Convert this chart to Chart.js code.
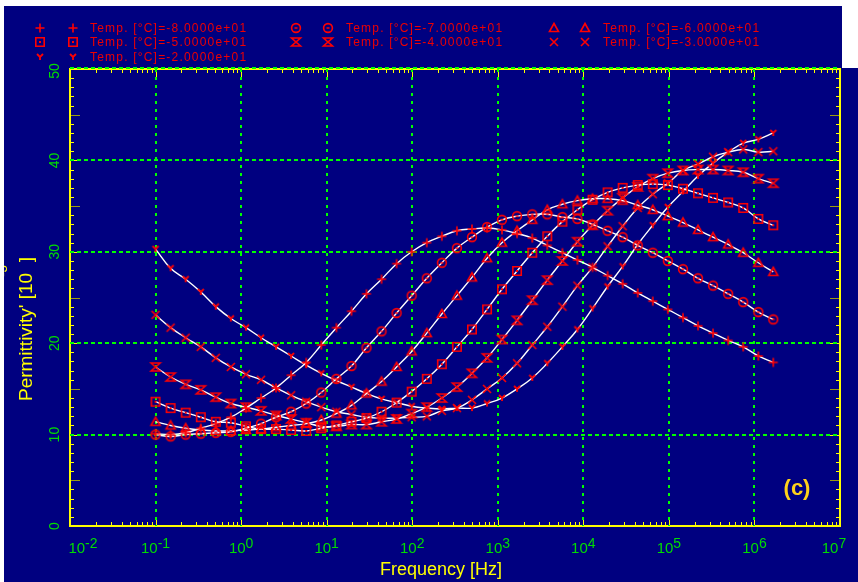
<!DOCTYPE html>
<html>
<head>
<meta charset="utf-8">
<script src="https://cdn.jsdelivr.net/npm/chart.js"></script>
<style>
  html, body { margin: 0; padding: 0; background: #fff; }
  canvas { display: block; }
</style>
</head>
<body>
<canvas id="grafico" width="858" height="582"></canvas>
<script>
// frecuencias de medida [Hz]
const frecuencias = [0.1, 0.15, 0.225, 0.338, 0.506, 0.759, 1.14, 1.71, 2.56, 3.84,
  5.77, 8.65, 13.0, 19.5, 29.2, 43.8, 65.7, 98.5, 148, 222,
  333, 499, 749, 1120, 1680, 2530, 3790, 5690, 8530, 12800,
  19200, 28800, 43200, 64800, 97300, 146000, 219000, 328000, 493000, 739000,
  1110000, 1660000];

// permitividad' [10^-3] por temperatura
const tempM80 = [10.1, 10.0, 10.2, 10.7, 11.2, 11.9, 12.9, 14.0, 15.1, 16.5,
  17.9, 19.8, 21.7, 23.5, 25.4, 27.0, 28.7, 30.0, 31.0, 31.7,
  32.3, 32.5, 32.6, 32.4, 32.0, 31.5, 30.7, 29.9, 29.1, 28.3,
  27.4, 26.5, 25.5, 24.6, 23.7, 22.8, 21.9, 21.1, 20.3, 19.6,
  18.6, 17.9];
const tempM70 = [10.0, 9.8, 10.0, 10.1, 10.2, 10.3, 10.7, 11.2, 11.9, 12.5,
  13.4, 14.6, 16.1, 17.5, 19.5, 21.3, 23.3, 25.2, 27.1, 28.8,
  30.4, 31.6, 32.7, 33.5, 33.9, 34.1, 34.1, 33.8, 33.6, 33.0,
  32.3, 31.6, 30.7, 29.9, 29.0, 28.1, 27.1, 26.3, 25.4, 24.5,
  23.4, 22.6];
const tempM60 = [11.4, 11.0, 10.7, 10.5, 10.4, 10.4, 10.5, 10.6, 10.8, 11.0,
  11.2, 11.6, 12.3, 13.2, 14.5, 15.8, 17.4, 19.1, 21.1, 23.2,
  25.2, 27.2, 29.3, 31.0, 32.3, 33.5, 34.6, 35.2, 35.6, 35.8,
  35.8, 35.6, 35.1, 34.6, 33.9, 33.2, 32.4, 31.6, 30.8, 29.9,
  28.8, 27.8];
const tempM50 = [13.6, 12.9, 12.4, 11.9, 11.4, 11.3, 10.9, 10.6, 10.6, 10.5,
  10.4, 10.7, 11.0, 11.4, 11.8, 12.5, 13.5, 14.7, 16.1, 17.7,
  19.6, 21.5, 23.7, 25.9, 27.9, 29.9, 31.7, 33.3, 34.6, 35.7,
  36.5, 37.0, 37.3, 37.4, 37.3, 36.9, 36.4, 35.9, 35.4, 34.8,
  33.6, 32.9];
const tempM40 = [17.4, 16.3, 15.5, 14.9, 14.1, 13.4, 13.0, 12.6, 12.1, 11.7,
  11.3, 10.9, 10.9, 11.1, 11.1, 11.4, 11.7, 12.3, 13.0, 14.0,
  15.2, 16.7, 18.4, 20.4, 22.5, 24.7, 26.9, 29.0, 31.1, 32.9,
  34.5, 35.9, 37.1, 38.0, 38.6, 38.9, 39.0, 39.0, 38.9, 38.7,
  38.0, 37.5];
const tempM30 = [23.1, 21.7, 20.6, 19.6, 18.4, 17.4, 16.6, 16.0, 15.1, 14.3,
  13.6, 13.0, 12.5, 12.2, 11.9, 11.8, 11.8, 11.9, 12.0, 12.6,
  12.9, 13.8, 15.0, 16.2, 17.8, 19.8, 21.8, 24.0, 26.3, 28.3,
  30.6, 32.8, 34.8, 36.3, 37.5, 38.9, 39.6, 40.4, 40.9, 41.2,
  40.9, 41.0];
const tempM20 = [30.3, 28.2, 27.0, 25.6, 24.0, 22.7, 21.7, 20.6, 19.6, 18.6,
  17.6, 16.7, 15.9, 15.2, 14.5, 13.9, 13.5, 13.1, 12.9, 12.8,
  12.9, 12.9, 13.4, 14.0, 15.0, 16.2, 17.8, 19.6, 21.5, 23.8,
  26.2, 28.4, 30.8, 32.9, 34.9, 36.6, 38.3, 39.7, 40.9, 41.9,
  42.3, 43.0];

const series = [tempM80, tempM70, tempM60, tempM50, tempM40, tempM30, tempM20];
const leyendas = ['Temp. [°C]=-8.0000e+01', 'Temp. [°C]=-7.0000e+01', 'Temp. [°C]=-6.0000e+01',
  'Temp. [°C]=-5.0000e+01', 'Temp. [°C]=-4.0000e+01', 'Temp. [°C]=-3.0000e+01',
  'Temp. [°C]=-2.0000e+01'];
const simbolos = ['plus', 'theta', 'tri', 'square', 'hourglass', 'cross', 'ydown'];

// etiquetas de los ejes
const exponentesX = [-2, -1, 0, 1, 2, 3, 4, 5, 6, 7];
const ticksY = [0, 10, 20, 30, 40, 50];

const AZUL = '#000080';
const ROJO = '#ff0000';
const VERDE = '#00ff00';
const VERDE_TXT = '#00dd00';
const AMARILLO = '#ffff00';
const OLIVA = '#9a9a10';
const FUENTE = '"Liberation Sans", Arial, sans-serif';

function marcador(tipo) {
  const c = document.createElement('canvas');
  c.width = 14; c.height = 14;
  const g = c.getContext('2d');
  const m = 7;
  g.strokeStyle = ROJO;
  g.fillStyle = ROJO;
  g.lineWidth = 1.6;
  g.beginPath();
  switch (tipo) {
    case 'plus':
      g.moveTo(m - 4.5, m); g.lineTo(m + 4.5, m);
      g.moveTo(m, m - 4.5); g.lineTo(m, m + 4.5);
      break;
    case 'theta':
      g.arc(m, m, 4.4, 0, Math.PI * 2);
      g.moveTo(m - 1.5, m); g.lineTo(m + 1.5, m);
      break;
    case 'tri':
      g.moveTo(m, m - 4.5); g.lineTo(m + 4.5, m + 3.5); g.lineTo(m - 4.5, m + 3.5); g.closePath();
      break;
    case 'square':
      g.rect(m - 4.2, m - 4.2, 8.4, 8.4);
      g.fillRect(m - 1, m - 1, 2, 2);
      break;
    case 'hourglass':
      g.moveTo(m - 4.5, m - 4); g.lineTo(m + 4.5, m - 4); g.lineTo(m - 4.5, m + 4); g.lineTo(m + 4.5, m + 4); g.closePath();
      break;
    case 'cross':
      g.moveTo(m - 4, m - 4); g.lineTo(m + 4, m + 4);
      g.moveTo(m + 4, m - 4); g.lineTo(m - 4, m + 4);
      break;
    case 'ydown':
      g.lineWidth = 1.8;
      g.moveTo(m - 3, m - 3); g.lineTo(m, m); g.lineTo(m + 3, m - 3);
      g.moveTo(m, m); g.lineTo(m, m + 3);
      break;
  }
  g.stroke();
  return c;
}
const imagenes = simbolos.map(marcador);

const datasets = series.map((vals, i) => ({
  label: leyendas[i],
  data: frecuencias.map((f, k) => ({ x: f, y: vals[k] })),
  borderColor: '#ffffff',
  borderWidth: 1.4,
  tension: 0.4,
  pointStyle: imagenes[i],
  pointRadius: 4,
  fill: false
}));

function textoExp(ctx, base, exp, cx, y, fb, fe, sube) {
  ctx.font = fb;
  const wb = ctx.measureText(base).width;
  ctx.font = fe;
  const we = ctx.measureText(exp).width;
  const x0 = cx - (wb + we) / 2;
  ctx.font = fb;
  ctx.fillText(base, x0, y);
  ctx.font = fe;
  ctx.fillText(exp, x0 + wb, y - sube);
}

const marco = {
  id: 'marco',
  beforeDraw(chart) {
    const ctx = chart.ctx;
    ctx.save();
    ctx.fillStyle = '#ffffff';
    ctx.fillRect(0, 0, chart.width, chart.height);
    ctx.fillStyle = AZUL;
    ctx.fillRect(4, 6, chart.width - 4, chart.height - 6);
    ctx.restore();
  },
  beforeDatasetsDraw(chart) {
    const { ctx, chartArea: a, scales: { x, y } } = chart;
    ctx.save();
    // marcas menores del eje y (izquierda y derecha)
    ctx.lineWidth = 1;
    for (let v = 1; v < 50; v++) {
      const py = Math.round(y.getPixelForValue(v)) + 0.5;
      const largo = v % 5 === 0 ? 10 : 4;
      ctx.strokeStyle = (v % 5 === 0 && v % 10 !== 0) ? OLIVA : AMARILLO;
      ctx.beginPath();
      ctx.moveTo(a.left, py); ctx.lineTo(a.left + largo, py);
      ctx.moveTo(a.right, py); ctx.lineTo(a.right - largo, py);
      ctx.stroke();
    }
    // marcas logarítmicas del eje x (abajo y arriba)
    ctx.strokeStyle = AMARILLO;
    for (let e = -2; e < 7; e++) {
      for (let m = 1; m < 10; m++) {
        const px = Math.round(x.getPixelForValue(m * Math.pow(10, e))) + 0.5;
        const largo = m === 1 ? 8 : 4;
        ctx.beginPath();
        ctx.moveTo(px, a.bottom); ctx.lineTo(px, a.bottom - largo);
        ctx.moveTo(px, a.top); ctx.lineTo(px, a.top + largo);
        ctx.stroke();
      }
    }
    // marco
    ctx.lineWidth = 2;
    ctx.strokeRect(a.left, a.top, a.right - a.left, a.bottom - a.top);
    // rejilla punteada
    ctx.strokeStyle = VERDE;
    ctx.setLineDash([4, 3]);
    ticksY.slice(1).forEach(v => {
      const py = Math.round(y.getPixelForValue(v)) - (v === 50 ? 1 : 0);
      ctx.beginPath();
      ctx.moveTo(a.left, py); ctx.lineTo(a.right, py);
      ctx.stroke();
    });
    ctx.setLineDash([3, 5]);
    exponentesX.slice(1, -1).forEach(e => {
      const px = Math.round(x.getPixelForValue(Math.pow(10, e)));
      ctx.beginPath();
      ctx.moveTo(px, a.top); ctx.lineTo(px, a.bottom);
      ctx.stroke();
    });
    ctx.restore();
  },
  afterDraw(chart) {
    const { ctx, chartArea: a, scales: { x, y } } = chart;
    ctx.save();
    // etiquetas del eje x
    ctx.fillStyle = VERDE_TXT;
    ctx.textBaseline = 'alphabetic';
    exponentesX.forEach(e => {
      const px = x.getPixelForValue(Math.pow(10, e));
      const cx = Math.min(Math.max(px, a.left + 13), a.right - 6);
      textoExp(ctx, '10', String(e), cx, 553, '15px ' + FUENTE, '14px ' + FUENTE, 5);
    });
    // etiquetas del eje y (giradas)
    ctx.font = '14px ' + FUENTE;
    ctx.textAlign = 'center';
    ctx.textBaseline = 'middle';
    ticksY.forEach(v => {
      const py = Math.max(y.getPixelForValue(v), a.top + 2);
      ctx.save();
      ctx.translate(55, py);
      ctx.rotate(-Math.PI / 2);
      ctx.fillText(String(v), 0, 0);
      ctx.restore();
    });
    // títulos
    ctx.fillStyle = AMARILLO;
    ctx.textAlign = 'center';
    ctx.textBaseline = 'alphabetic';
    ctx.font = '18px ' + FUENTE;
    ctx.fillText('Frequency [Hz]', 441, 575);
    ctx.save();
    ctx.translate(32, 329);
    ctx.rotate(-Math.PI / 2);
    ctx.font = '19px ' + FUENTE;
    const tituloY = "Permittivity' [10  ]";
    const wT = ctx.measureText(tituloY).width;
    ctx.textAlign = 'left';
    ctx.fillText(tituloY, -wT / 2, 0);
    const wPre = ctx.measureText("Permittivity' [10").width;
    ctx.font = '13px ' + FUENTE;
    ctx.fillText('-3', -wT / 2 + wPre - 4, -25);
    ctx.restore();
    // leyenda
    const cols = [[40, 73, 90], [296, 328, 346], [554, 585, 603]];
    const filas = [28, 42, 57];
    ctx.font = '12px ' + FUENTE;
    ctx.letterSpacing = '1.2px';
    ctx.fillStyle = '#ee0000';
    ctx.textAlign = 'left';
    ctx.textBaseline = 'middle';
    chart.data.datasets.forEach((ds, i) => {
      const [m1, m2, tx] = cols[i % 3];
      const fy = filas[Math.floor(i / 3)];
      const img = ds.pointStyle;
      ctx.drawImage(img, m1 - img.width / 2, fy - img.height / 2);
      ctx.drawImage(img, m2 - img.width / 2, fy - img.height / 2);
      ctx.fillText(ds.label, tx, fy + 1);
    });
    ctx.letterSpacing = '0px';
    // rótulo del panel
    ctx.fillStyle = '#ffd21a';
    ctx.font = 'bold 22px ' + FUENTE;
    ctx.textAlign = 'center';
    ctx.fillText('(c)', 797, 489);
    // bordes blancos de la imagen
    ctx.fillStyle = '#ffffff';
    ctx.fillRect(0, 0, chart.width, 6);
    ctx.fillRect(0, 0, 4, chart.height);
    ctx.fillRect(842, 0, chart.width - 842, 68);
    ctx.restore();
  }
};

const canvas = document.querySelector('#grafico');
new Chart(canvas, {
  type: 'line',
  data: { datasets },
  options: {
    responsive: false,
    animation: false,
    events: [],
    layout: { padding: { left: 70, top: 69, right: 18, bottom: 56 } },
    scales: {
      x: { type: 'logarithmic', min: 0.01, max: 1e7, display: false },
      y: { type: 'linear', min: 0, max: 50, display: false }
    },
    plugins: { legend: { display: false }, tooltip: { enabled: false } }
  },
  plugins: [marco]
});
</script>
</body>
</html>
